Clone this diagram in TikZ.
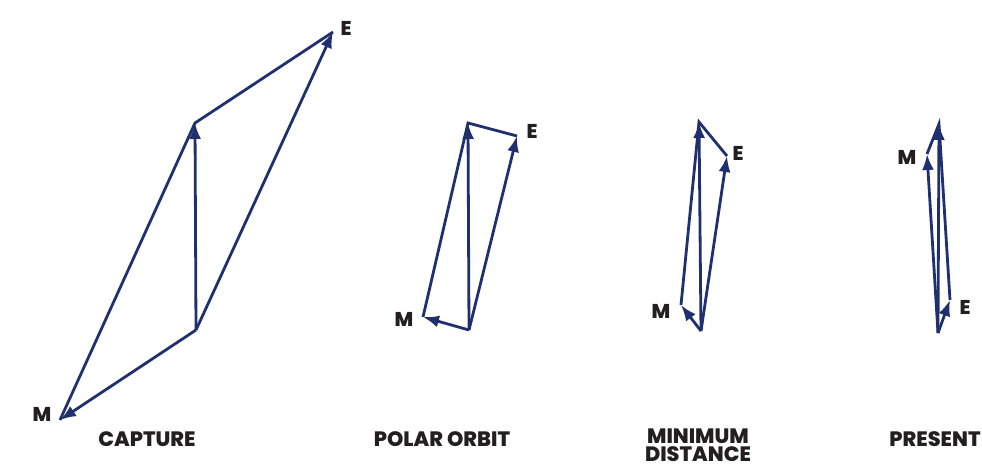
\documentclass[tikz,border=0pt]{standalone}
\usepackage{fontspec}
\IfFontExistsTF{Poppins ExtraBold}
  {\setmainfont{Poppins}[BoldFont={Poppins ExtraBold}]}
  {\setmainfont{Poppins}[BoldFont={Poppins Bold}]}
\usetikzlibrary{arrows.meta}
\definecolor{vecblue}{RGB}{32,48,110}
\definecolor{labelink}{RGB}{35,31,32}
\begin{document}
\begin{tikzpicture}[
    x=0.5pt,
    y=0.5pt,
    vec/.style={draw=vecblue, line width=1.4pt, -{Latex[length=8pt,width=6pt]}},
    side/.style={draw=vecblue, line width=1.4pt, line join=miter},
    tag/.style={text=labelink, font=\bfseries\fontsize{10}{10}\selectfont, inner sep=0pt},
    title/.style={text=labelink, font=\bfseries\fontsize{10.4}{9}\selectfont, align=center, inner sep=0pt}
  ]
    \useasboundingbox (0,0) rectangle (982,468);
    % capture
    \coordinate (cB) at (196,138);
    \coordinate (cT) at (195,345);
    \coordinate (cE) at (333,436);
    \coordinate (cM) at (60,48);
    \draw[side] (cM) -- (cT) -- (cE);
    \draw[vec] (cB) -- (cT);
    \draw[vec] (cB) -- (cE);
    \draw[vec] (cB) -- (cM);
    \node[tag] (cElab) at (346,440) {E};
    \node[tag] (cMlab) at (42,54) {M};
    \node[title] (capture) at (147,29) {CAPTURE};
    % polar orbit
    \coordinate (pB) at (469,138);
    \coordinate (pT) at (468,345);
    \coordinate (pE) at (517,332);
    \coordinate (pM) at (423,151);
    \draw[side] (pM) -- (pT) -- (pE);
    \draw[vec] (pB) -- (pT);
    \draw[vec] (pB) -- (pE);
    \draw[vec] (pB) -- (pM);
    \node[tag] (pElab) at (532,337) {E};
    \node[tag] (pMlab) at (404,149) {M};
    \node[title] (polar) at (442,29) {POLAR ORBIT};
    % minimum distance
    \coordinate (mB) at (701,137);
    \coordinate (mT) at (699,346);
    \coordinate (mE) at (727,312);
    \coordinate (mM) at (681,163);
    \draw[side] (mM) -- (mT) -- (mE);
    \draw[vec] (mB) -- (mT);
    \draw[vec] (mB) -- (mE);
    \draw[vec] (mB) -- (mM);
    \node[tag] (mElab) at (738,315) {E};
    \node[tag] (mMlab) at (661,157) {M};
    \node[title] (mindist) at (698,23) {MINIMUM\\DISTANCE};
    % present
    \coordinate (nB) at (938,135);
    \coordinate (nT) at (939,344);
    \coordinate (nE) at (950,168);
    \coordinate (nM) at (927,314);
    \draw[side] (nM) -- (nT) -- (nE);
    \draw[vec] (nB) -- (nT);
    \draw[vec] (nB) -- (nE);
    \draw[vec] (nB) -- (nM);
    \node[tag] (nElab) at (965,161) {E};
    \node[tag] (nMlab) at (907,311) {M};
    \node[title] (present) at (935,29) {PRESENT};
  \end{tikzpicture}
\end{document}
